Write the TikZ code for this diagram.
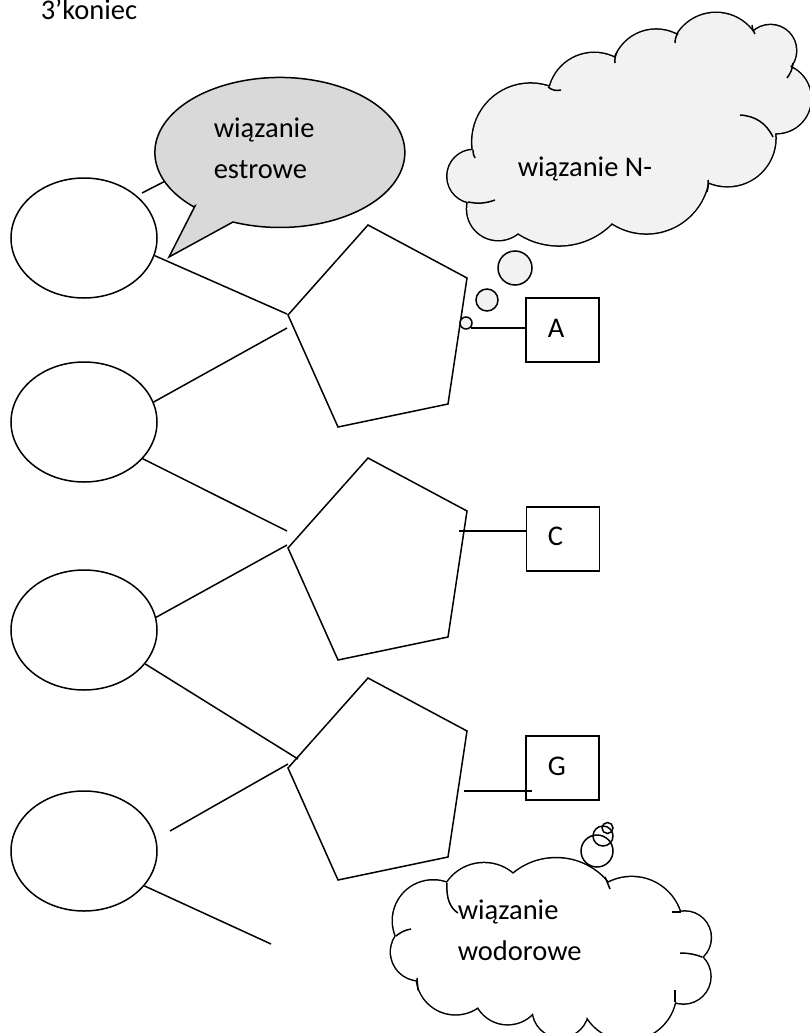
\documentclass[tikz,border=0pt]{standalone}
\usepackage{fontspec}
\setmainfont{Carlito}
\usetikzlibrary{shapes.geometric}
\definecolor{cloudfill}{HTML}{F2F2F2}
\definecolor{calloutfill}{HTML}{D9D9D9}
\begin{document}
\begin{tikzpicture}[x=1pt,y=-1pt,line width=1.5pt,line join=miter,
  nucleotide/.style={ellipse, draw, minimum width=146pt, minimum height=120pt, inner sep=0pt},
  basebox/.style={draw, minimum width=73pt, minimum height=64pt, inner sep=0pt},
  lbl/.style={font=\fontsize{28.5}{34}\selectfont, inner sep=0pt, anchor=base west},
  bubble/.style={circle, draw, inner sep=0pt},
  cloudedge/.style={line width=3pt}
]
\useasboundingbox (0,0) rectangle (810,1033);

% title
\node[lbl] (title) at (40,19.5) {3’koniec};

% nucleotide ellipses
\node[nucleotide] (n1) at (84,238) {};
\node[nucleotide] (n2) at (84,422) {};
\node[nucleotide] (n3) at (84,630) {};
\node[nucleotide] (n4) at (84,851) {};

% pentagon vertices
\coordinate (s1a) at (288,315); \coordinate (s1b) at (368,225); \coordinate (s1c) at (467,278);
\coordinate (s1d) at (448,404); \coordinate (s1e) at (338,427);
\coordinate (s2a) at (288,548); \coordinate (s2b) at (368,458); \coordinate (s2c) at (467,511);
\coordinate (s2d) at (448,637); \coordinate (s2e) at (338,660);
\coordinate (s3a) at (288,768); \coordinate (s3b) at (368,678); \coordinate (s3c) at (467,731);
\coordinate (s3d) at (448,857); \coordinate (s3e) at (338,880);
\draw (s1a) -- (s1b) -- (s1c) -- (s1d) -- (s1e) -- cycle;
\draw (s2a) -- (s2b) -- (s2c) -- (s2d) -- (s2e) -- cycle;
\draw (s3a) -- (s3b) -- (s3c) -- (s3d) -- (s3e) -- cycle;

% connector ends
\coordinate (j1) at (287,314);
\coordinate (j2) at (287,328);
\coordinate (j3) at (287,531);
\coordinate (j4) at (287,545);
\coordinate (j5) at (298,759);
\coordinate (j6) at (288,764);
\coordinate (f6) at (170,831);
\coordinate (f7) at (271,944);
\coordinate (h0) at (142,193);
\coordinate (h1) at (185,171);

\draw (h0) -- (h1);
\draw (n1.-14) -- (j1);
\draw (n2.16) -- (j2);
\draw (n2.-32) -- (j3);
\draw (n3.10) -- (j4);
\draw (n3.-29) -- (j5);
\draw (f6) -- (j6);
\draw (n4.-30) -- (f7);

% speech callout
\draw[fill=calloutfill] (195,206) -- (169,257) -- (233,222)
  arc[start angle=112, end angle=-226.4, x radius=125, y radius=75] -- cycle;
\node[lbl] (es1) at (213,137) {wiązanie};
\node[lbl] (es2) at (213,178) {estrowe};

% top cloud
\def\TopPuffs{(530.6,141.9) circle[radius=58.2] (594.2,98.8) circle[radius=45.8]
  (656.1,73.6) circle[radius=43.9] (716,58.6) circle[radius=45.6]
  (770.5,50.6) circle[radius=25.5] (776.2,98.6) circle[radius=34.5]
  (727.4,138.2) circle[radius=47.9] (646.4,170.6) circle[radius=62.7]
  (558.9,171.1) circle[radius=74.2] (498.3,208.9) circle[radius=31.1]
  (473.8,176.3) circle[radius=26.3]}
\draw[cloudedge] \TopPuffs;
\fill[cloudfill] \TopPuffs (473,150) -- (550,87) -- (615,58) -- (677,35) -- (753,32) -- (790,67)
  -- (775,133) -- (708,182) -- (612,223) -- (518,233) -- (468,202) -- cycle;
\draw (548,87) to[bend right=25] (561,90);
\draw (615,63) to[bend left=15] (617,52);
\draw (675,43) to[bend left=15] (678,33);
\draw (752,25) to[bend right=15] (755,34);
\draw (787,78) to[bend right=15] (793,63);
\draw (740,115) to[bend left=30] (773,137);
\draw (708,180) to[bend left=10] (707,192);
\draw (495,200) to[bend left=15] (468,202);
\draw (473,150) to[bend right=15] (475,158);
\node[lbl] (nbond) at (517,176) {wiązanie N-};

% thought circles (top)
\node[bubble, fill=cloudfill, minimum size=34pt] (t1) at (515,268) {};
\node[bubble, fill=cloudfill, minimum size=22pt] (t2) at (487,300) {};

% base boxes and connectors
\node[basebox] (ba) at (562.5,330) {};
\node[basebox] (bc) at (563,539) {};
\node[basebox] (bg) at (562.5,768) {};
\coordinate (ka) at (471,328);
\coordinate (kc) at (459,531);
\coordinate (kg) at (464,791);
\coordinate (kg2) at (532,791);
\draw (ka) -- (ka -| ba.west);
\draw (kc) -- (kc -| bc.west);
\draw (kg) -- (kg2);
\node[bubble, fill=cloudfill, minimum size=12pt] (t3) at (466,323) {};
\node[lbl] (la) at (547,337) {A};
\node[lbl] (lc) at (547,545) {C};
\node[lbl] (lg) at (547,775) {G};

% bottom cloud
\def\BottomPuffs{(433.2,920.7) circle[radius=40.2] (484,907.7) circle[radius=44.5]
  (556.1,925.2) circle[radius=66.9] (631.7,927.9) circle[radius=50.8]
  (684.7,937.6) circle[radius=26] (683.4,976.5) circle[radius=26.9]
  (627.9,991.6) circle[radius=48.2] (560.4,1009.4) circle[radius=27.6]
  (507.7,989.8) circle[radius=34.3] (455.5,975.4) circle[radius=38.8]
  (419.4,951.9) circle[radius=28.3]}
\draw[cloudedge] \BottomPuffs;
\fill[white] \BottomPuffs (396,936) -- (447,883) -- (513,874) -- (608,883) -- (680,912) -- (702,957)
  -- (675,1002) -- (587,1017) -- (533,1013) -- (478,1007) -- (417,980) -- cycle;
\draw (447,883) .. controls (446,898) and (450,908) .. (458,913);
\draw (396,936) .. controls (401,932) and (405,930) .. (411,929);
\draw (417,978) -- (418,990);
\draw (675,990) -- (675,1002);
\draw (680,953) .. controls (690,953) and (697,955) .. (702,957);
\draw (672,912) -- (681,912);
\draw (605,877) -- (610,889);
\node[lbl] (hb1) at (457,919) {wiązanie};
\node[lbl] (hb2) at (457,960) {wodorowe};

% thought circles (bottom)
\node[bubble, minimum size=32pt] (u1) at (597,851) {};
\node[bubble, minimum size=20pt] (u2) at (603,836) {};
\node[bubble, minimum size=11pt] (u3) at (607.5,828) {};
\end{tikzpicture}
\end{document}
